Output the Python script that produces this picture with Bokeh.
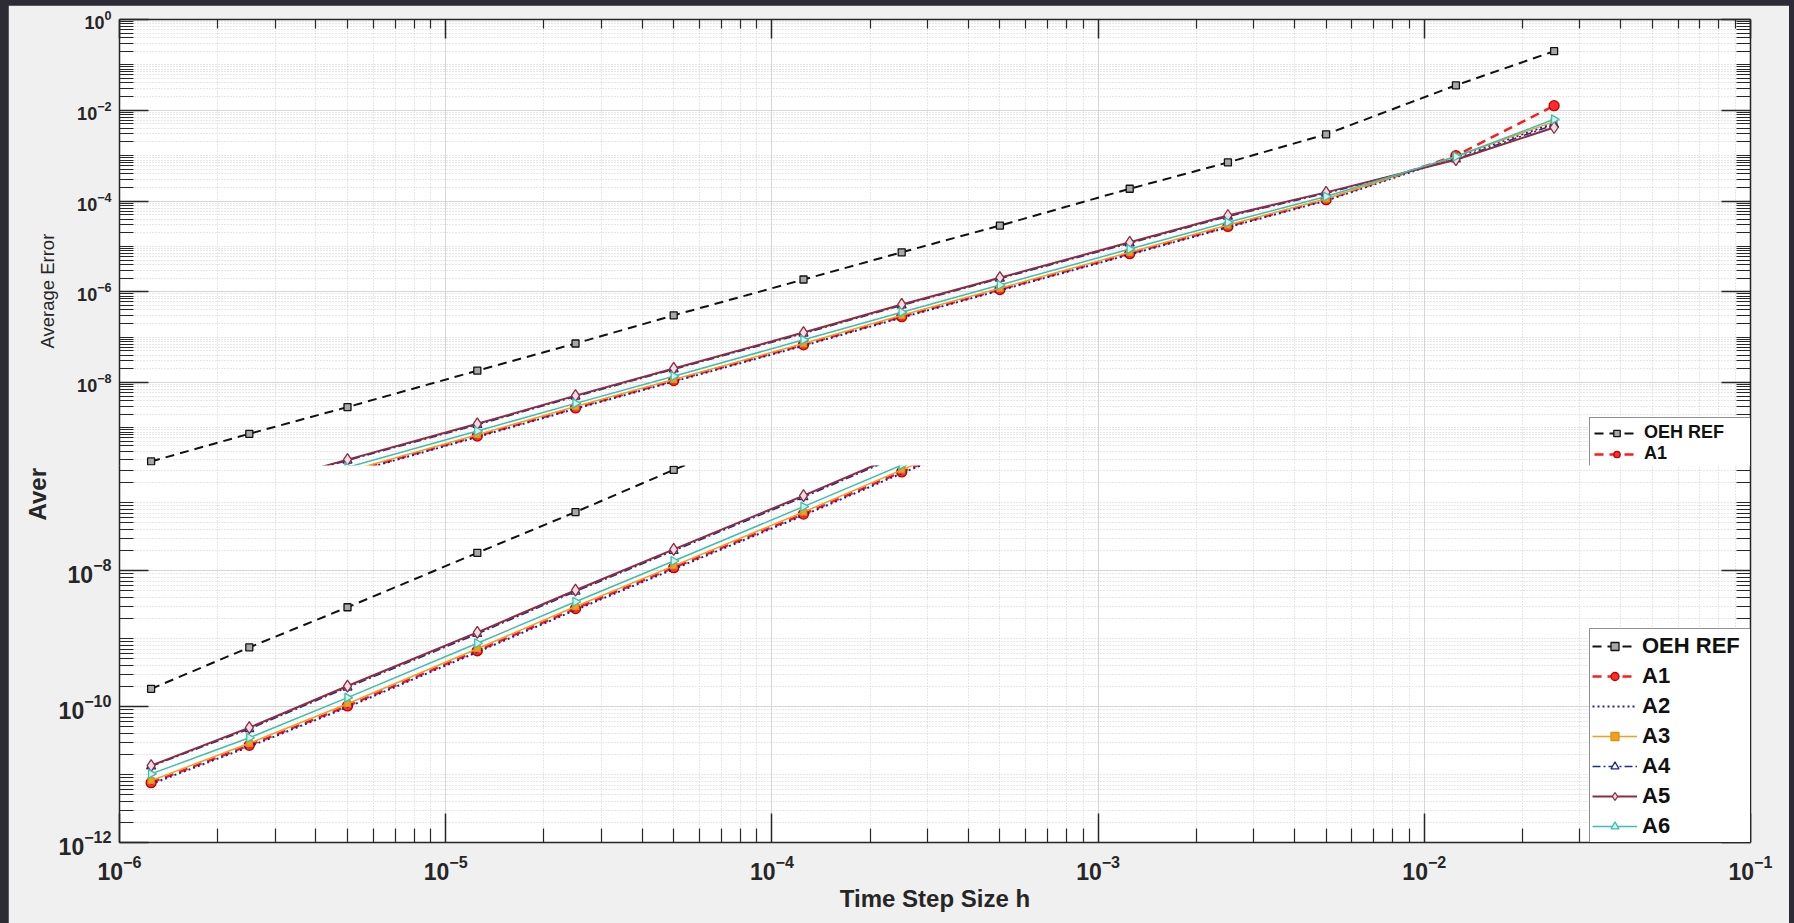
import math
from bokeh.plotting import figure
from bokeh.models import (FixedTicker, LogAxis, LogTickFormatter, CustomJSTickFormatter,
                          Legend, LegendItem, Title, Range1d)
from bokeh.layouts import column
from bokeh.embed import file_html
from bokeh.resources import INLINE

# ---------------- data ----------------
h = [1.25e-6, 2.5e-6, 5e-6, 1.25e-5, 2.5e-5, 5e-5, 1.25e-4, 2.5e-4,
     5e-4, 1.25e-3, 2.5e-3, 5e-3, 1.25e-2, 2.5e-2]
oeh_ref = [1.82e-10, 7.41e-10, 2.88e-9, 1.82e-8, 7.24e-8, 3.02e-7, 1.86e-6, 7.41e-6,
           2.88e-5, 1.86e-4, 7.08e-4, 2.95e-3, 3.55e-2, 2.0e-1]
a1 = [7.59e-12, 2.69e-11, 1.02e-10, 6.61e-10, 2.75e-9, 1.10e-8, 6.76e-8, 2.82e-7,
      1.12e-6, 6.92e-6, 2.75e-5, 1.07e-4, 1.00e-3, 1.26e-2]
a2 = [7.24e-12, 2.57e-11, 9.77e-11, 6.31e-10, 2.63e-9, 1.05e-8, 6.46e-8, 2.69e-7,
      1.07e-6, 6.61e-6, 2.63e-5, 1.02e-4, 9.33e-4, 5.13e-3]
a3 = [8.13e-12, 2.88e-11, 1.10e-10, 7.08e-10, 2.95e-9, 1.17e-8, 7.24e-8, 3.02e-7,
      1.20e-6, 7.41e-6, 2.95e-5, 1.12e-4, 9.55e-4, 5.62e-3]
a4 = [1.32e-11, 4.68e-11, 1.91e-10, 1.17e-9, 4.90e-9, 1.95e-8, 1.20e-7, 5.01e-7,
      1.95e-6, 1.17e-5, 4.57e-5, 1.48e-4, 8.32e-4, 4.79e-3]
a5 = [1.35e-11, 4.90e-11, 2.00e-10, 1.23e-9, 5.13e-9, 2.04e-8, 1.26e-7, 5.25e-7,
      2.04e-6, 1.23e-5, 4.79e-5, 1.55e-4, 8.13e-4, 4.17e-3]
a6 = [1.02e-11, 3.47e-11, 1.35e-10, 8.51e-10, 3.47e-9, 1.38e-8, 8.71e-8, 3.55e-7,
      1.41e-6, 8.71e-6, 3.39e-5, 1.26e-4, 9.55e-4, 6.31e-3]
series_names = ["OEH REF", "A1", "A2", "A3", "A4", "A5", "A6"]
series_values = [oeh_ref, a1, a2, a3, a4, a5, a6]

x_major_ticks = [1e-6, 1e-5, 1e-4, 1e-3, 1e-2, 1e-1]
y_major_ticks = [1e0, 1e-2, 1e-4, 1e-6, 1e-8, 1e-10, 1e-12]
x_minor_ticks = [m * 10.0 ** k for k in range(-6, -1) for m in range(2, 10)]
y_minor_ticks = [m * 10.0 ** k for k in range(-12, 0) for m in range(1, 10)
                 if not (m == 1 and k % 2 == 0)]
x_title = "Time Step Size h"
y_title = "Average Error"
y_title_cut = "Aver"

# ---------------- styles ----------------
FONT = "Liberation Sans"
INK = "#262626"
styles = [
    dict(color="#111111", dash="9 6", width=2.0, marker="square", size=7, fill="#a8a8a8", mline="#111111", angle=0),
    dict(color="#ff1a1a", dash="9 6", width=2.5, marker="circle", size=10, fill="#ff2a2a", mline="#c00000", angle=0),
    dict(color="#1f1fa8", dash="2 3", width=2.0, marker=None),
    dict(color="#f0a020", dash="solid", width=1.5, marker="square", size=6, fill="#f0a020", mline="#e09010", angle=0),
    dict(color="#1f2a8a", dash="8 3 2 3", width=1.5, marker="triangle", size=9, fill="#ffffff", mline="#1f2a8a", angle=0),
    dict(color="#8e2b3e", dash="solid", width=2.0, marker="diamond", size=12, fill="#f3dde2", mline="#8e2b3e", angle=0),
    dict(color="#3cbfae", dash="solid", width=1.5, marker="triangle", size=9, fill="#d4f2ed", mline="#3cbfae", angle=-math.pi / 2),
]

W = 1781
FRAME_L, FRAME_R = 111, 39
UP_DEC = 45.375     # px per decade, upper (compressed) view
LO_DEC = 68.0       # px per decade, lower view


def draw_series(p):
    rs = []
    for vals, st in zip(series_values, styles):
        r_line = p.line(h, vals, line_color=st["color"], line_dash=st["dash"], line_width=st["width"])
        group = [r_line]
        if st["marker"]:
            r_m = p.scatter(h, vals, marker=st["marker"], size=st["size"], fill_color=st["fill"],
                            line_color=st["mline"], line_width=1.3, angle=st["angle"])
            group.append(r_m)
        rs.append(group)
    return rs


def style_axis(ax, major_in, minor_in):
    ax.major_tick_in = major_in
    ax.major_tick_out = 0
    ax.minor_tick_in = minor_in
    ax.minor_tick_out = 0
    ax.axis_line_color = INK
    ax.axis_line_width = 1.5
    ax.major_tick_line_color = INK
    ax.minor_tick_line_color = INK
    ax.major_tick_line_width = 1.5
    ax.minor_tick_line_width = 1.2
    ax.major_label_text_font = FONT
    ax.major_label_text_font_style = "bold"
    ax.major_label_text_color = INK


def blank_axis(ax):
    ax.formatter = CustomJSTickFormatter(code="return ''")
    ax.major_label_standoff = 0
    ax.major_label_text_font_size = "1px"


def style_grid(p, xt, yt):
    for g, t in ((p.xgrid, xt), (p.ygrid, yt)):
        g.ticker = t
        g.grid_line_color = "#d6d6d6"
        g.grid_line_width = 1
        g.minor_grid_line_color = "#cfcfcf"
        g.minor_grid_line_dash = "1 2"
        g.minor_grid_line_width = 1


def make_legend(items, loc, font_size, label_h, glyph_h, padding, spacing, label_w):
    return Legend(items=items, location=loc, orientation="vertical",
                  label_text_font=FONT, label_text_font_style="bold", label_text_color="#111111",
                  label_text_font_size=font_size, label_height=label_h, glyph_height=glyph_h,
                  glyph_width=45, label_width=label_w, spacing=spacing, padding=padding,
                  margin=0, label_standoff=5, border_line_color=INK, border_line_width=1.5,
                  background_fill_color="white", background_fill_alpha=1.0)


def side_title(text, offset, standoff, size, style):
    t = Title(text=text, align="left", offset=offset, standoff=standoff)
    t.text_font = FONT
    t.text_font_size = size
    t.text_font_style = style
    t.text_color = INK
    return t


# ---------------- upper (compressed) view ----------------
H1 = 461
frame1_h = H1 - 14
p1 = figure(width=W, height=H1, x_axis_type="log", y_axis_type="log",
            x_range=Range1d(1e-6, 1e-1), y_range=Range1d(10 ** (-frame1_h / UP_DEC), 1.0),
            x_axis_location="above", y_axis_location="left",
            output_backend="svg", toolbar_location=None,
            min_border_left=FRAME_L, min_border_right=FRAME_R, min_border_top=14, min_border_bottom=0,
            background_fill_color="white", border_fill_color="#f0f0f0", outline_line_color=None)
xt1 = FixedTicker(ticks=x_major_ticks, minor_ticks=x_minor_ticks)
yt1 = FixedTicker(ticks=y_major_ticks, minor_ticks=y_minor_ticks)
p1.xaxis.ticker = xt1
p1.yaxis.ticker = yt1
p1.yaxis.formatter = LogTickFormatter()
for ax in p1.xaxis:
    style_axis(ax, 19, 9)
    blank_axis(ax)
for ax in p1.yaxis:
    style_axis(ax, 29, 14)
    ax.major_label_text_font_size = "18px"
    ax.major_label_standoff = 8
r_ax1 = LogAxis(ticker=yt1)
style_axis(r_ax1, 29, 14)
blank_axis(r_ax1)
p1.add_layout(r_ax1, "right")
style_grid(p1, xt1, yt1)
rs1 = draw_series(p1)
leg1 = make_legend([LegendItem(label=series_names[i], renderers=rs1[i]) for i in range(2)],
                   (1470, -3), "18px", 21, 16, 4, 0, 103)
p1.add_layout(leg1, "center")
p1.add_layout(side_title(y_title, 118, 34, "18.5px", "normal"), "left")

# ---------------- lower (full-scale) view ----------------
H2 = 458
frame2_h = H2 - 81
p2 = figure(width=W, height=H2, x_axis_type="log", y_axis_type="log",
            x_range=Range1d(1e-6, 1e-1), y_range=Range1d(1e-12, 10 ** (-12 + frame2_h / LO_DEC)),
            x_axis_location="below", y_axis_location="left",
            output_backend="svg", toolbar_location=None,
            min_border_left=FRAME_L, min_border_right=FRAME_R, min_border_top=0, min_border_bottom=81,
            background_fill_color="white", border_fill_color="#f0f0f0", outline_line_color=None)
xt2 = FixedTicker(ticks=x_major_ticks, minor_ticks=x_minor_ticks)
yt2 = FixedTicker(ticks=y_major_ticks, minor_ticks=y_minor_ticks)
p2.xaxis.ticker = xt2
p2.yaxis.ticker = yt2
p2.xaxis.formatter = LogTickFormatter()
p2.yaxis.formatter = LogTickFormatter()
for ax in p2.xaxis:
    style_axis(ax, 29, 14)
    ax.major_label_text_font_size = "23px"
    ax.major_label_standoff = 12
    ax.axis_label = x_title
    ax.axis_label_text_font = FONT
    ax.axis_label_text_font_style = "bold"
    ax.axis_label_text_font_size = "24px"
    ax.axis_label_text_color = INK
    ax.axis_label_standoff = 2
for ax in p2.yaxis:
    style_axis(ax, 29, 14)
    ax.major_label_text_font_size = "23px"
    ax.major_label_standoff = 8
r_ax2 = LogAxis(ticker=yt2)
style_axis(r_ax2, 29, 14)
blank_axis(r_ax2)
p2.add_layout(r_ax2, "right")
style_grid(p2, xt2, yt2)
rs2 = draw_series(p2)
leg2 = make_legend([LegendItem(label=series_names[i], renderers=rs2[i]) for i in range(7)],
                   (1470, -1), "22px", 29, 20, 2, 1, 107)
p2.add_layout(leg2, "center")
p2.add_layout(side_title(y_title_cut, 322, 10, "24px", "bold"), "left")

p1.margin = (5, 5, 0, 8)
p2.margin = (-1, 5, 0, 8)
page = column(p1, p2, spacing=0, styles={"background-color": "#2c2b36"})

open("out.html", "w").write(file_html(page, INLINE))
